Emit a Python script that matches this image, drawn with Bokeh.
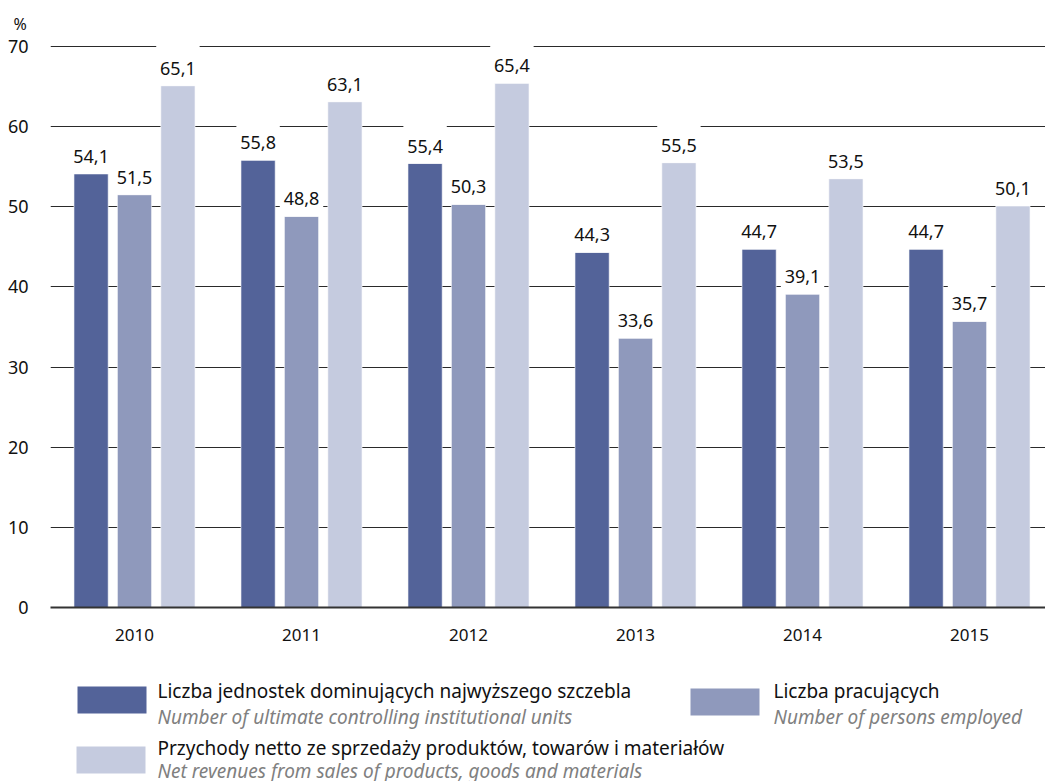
from bokeh.plotting import figure
from bokeh.models import ColumnDataSource, Range1d, FixedTicker, LabelSet
from bokeh.layouts import column
from bokeh.embed import file_html
from bokeh.resources import INLINE
from bokeh.core.properties import value

years = ["2010", "2011", "2012", "2013", "2014", "2015"]
units = [54.1, 55.8, 55.4, 44.3, 44.7, 44.7]
employed = [51.5, 48.8, 50.3, 33.6, 39.1, 35.7]
revenues = [65.1, 63.1, 65.4, 55.5, 53.5, 50.1]
y_ticks = [0, 10, 20, 30, 40, 50, 60, 70]

series = [
    (units, "#536399", -0.26),
    (employed, "#8f99bc", 0.0),
    (revenues, "#c5cbdf", 0.26),
]
leg_pl = ["Liczba jednostek dominujących najwyższego szczebla",
          "Liczba pracujących",
          "Przychody netto ze sprzedaży produktów, towarów i materiałów"]
leg_en = ["Number of ultimate controlling institutional units",
          "Number of persons employed",
          "Net revenues from sales of products, goods and materials"]

FONT = "Noto Sans"
LABEL_BOX = 5.0  # height of white label backdrop, in axis units

p = figure(width=1045, height=648, output_backend="svg", toolbar_location=None,
           x_range=Range1d(-0.503, 5.455), y_range=Range1d(0, 70.25),
           min_border_left=50, min_border_right=0, min_border_top=44,
           min_border_bottom=41, title="%")
p.outline_line_color = None
p.background_fill_color = "white"
p.title.align = "left"
p.title.offset = -37
p.title.standoff = 19
p.title.text_font = FONT
p.title.text_font_size = "16px"
p.title.text_font_style = "normal"
p.title.text_color = "#111111"

xs = list(range(len(years)))
for vals, col, off in series:
    src = ColumnDataSource(dict(x=[i + off for i in xs], top=vals,
                                boxtop=[v + LABEL_BOX for v in vals],
                                lab=[f"{v:.1f}".replace(".", ",") for v in vals]))
    p.vbar(x="x", top="top", width=0.205, bottom=0, source=src,
           fill_color=col, line_color="white", line_alpha=0.6, line_width=1)
    p.vbar(x="x", bottom="top", top="boxtop", width=0.26, source=src,
           fill_color="white", line_color=None)
    ls = LabelSet(x="x", y="top", text="lab", source=src, text_align="center",
                  text_baseline="alphabetic", y_offset=11, text_font=value(FONT),
                  text_font_size="18px", text_color="#111111")
    p.add_layout(ls)

p.xaxis.ticker = FixedTicker(ticks=xs)
p.xaxis.major_label_overrides = {i: y for i, y in enumerate(years)}
p.xaxis.major_tick_line_color = None
p.xaxis.minor_tick_line_color = None
p.xaxis.axis_line_color = "#333333"
p.xaxis.axis_line_width = 2
p.xaxis.major_label_standoff = 15
p.xaxis.major_label_text_font = FONT
p.xaxis.major_label_text_font_size = "17px"
p.xaxis.major_label_text_color = "#111111"
p.xgrid.grid_line_color = None

p.yaxis.ticker = FixedTicker(ticks=y_ticks)
p.yaxis.axis_line_color = None
p.yaxis.major_tick_line_color = None
p.yaxis.minor_tick_line_color = None
p.yaxis.major_label_standoff = 16
p.yaxis.major_label_text_font = FONT
p.yaxis.major_label_text_font_size = "18px"
p.yaxis.major_label_text_color = "#111111"
p.ygrid.grid_line_color = "#2a2a2a"
p.ygrid.grid_line_width = 1

leg = figure(width=1045, height=133, output_backend="svg", toolbar_location=None,
             x_range=Range1d(50, 1045), y_range=Range1d(133, 0),
             x_axis_type=None, y_axis_type=None, min_border=0,
             min_border_left=50)
leg.outline_line_color = None
leg.xgrid.grid_line_color = None
leg.ygrid.grid_line_color = None

box_x = [111.5, 724.5, 110.5]
box_y = [51.5, 53.5, 111.5]
txt_x = [157, 773, 157]
base_pl = [42, 42, 99]
base_en = [68, 68, 122]
cols = [s[1] for s in series]
leg.rect(x=box_x, y=box_y, width=69, height=27, fill_color=cols, line_color=None)
leg.text(x=txt_x, y=base_pl, text=leg_pl, text_font=value(FONT), text_font_size="19px",
         text_color="#111111", text_baseline="alphabetic")
leg.text(x=txt_x, y=base_en, text=leg_en, text_font=value(FONT), text_font_size="19px",
         text_font_style="italic", text_color="#808080", text_baseline="alphabetic")

layout = column(p, leg, spacing=0)
open("out.html", "w").write(file_html(layout, INLINE))
